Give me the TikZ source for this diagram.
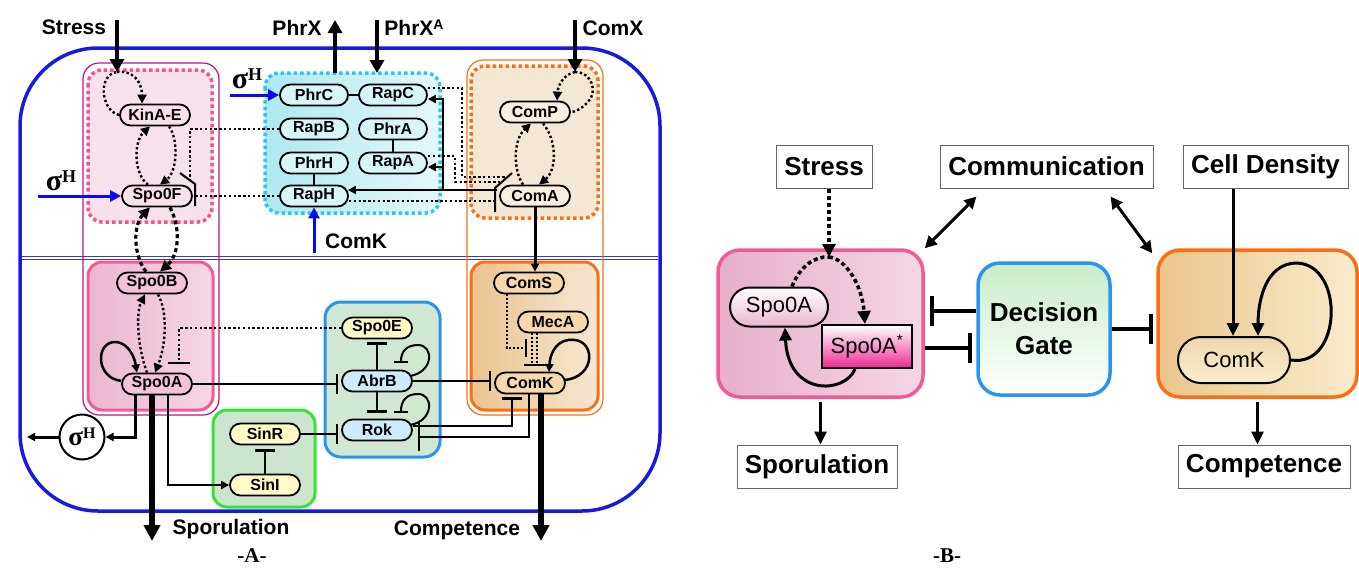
\documentclass[tikz,border=0pt]{standalone}
\usepackage{fontspec}
\setmainfont{Liberation Sans}
\newfontfamily\tms{Liberation Serif}
\usetikzlibrary{arrows.meta,calc}
\definecolor{cellblue}{RGB}{25,25,225}
\definecolor{navy}{RGB}{60,60,170}
\definecolor{magline}{RGB}{190,20,130}
\definecolor{pinkdot}{RGB}{250,80,140}
\definecolor{pinkfillA}{RGB}{246,226,236}
\definecolor{pinkL}{RGB}{234,182,208}
\definecolor{pinkR}{RGB}{246,214,230}
\definecolor{pinkedge}{RGB}{240,90,150}
\definecolor{cyandot}{RGB}{40,200,240}
\definecolor{cyanL}{RGB}{175,232,242}
\definecolor{cyanR}{RGB}{228,248,250}
\definecolor{orangeedge}{RGB}{250,110,20}
\definecolor{orfillA}{RGB}{244,232,212}
\definecolor{orfillB}{RGB}{234,196,142}
\definecolor{blueedge}{RGB}{40,150,240}
\definecolor{bluefill}{RGB}{208,232,210}
\definecolor{greenedge}{RGB}{50,230,50}
\definecolor{greenfill}{RGB}{205,228,205}
\definecolor{nodepinkA}{RGB}{250,224,237}
\definecolor{nodepinkB}{RGB}{244,194,219}
\definecolor{nodecyan}{RGB}{215,246,250}
\definecolor{nodeorA}{RGB}{250,238,220}
\definecolor{nodeorB}{RGB}{246,216,172}
\definecolor{nodeyel}{RGB}{255,250,200}
\definecolor{nodeblue}{RGB}{205,236,250}
\definecolor{sigblue}{RGB}{10,10,240}
\definecolor{Bpink}{RGB}{230,175,202}
\definecolor{BpinkR}{RGB}{245,214,230}
\definecolor{hotpink}{RGB}{238,40,150}
\definecolor{Bor}{RGB}{234,196,140}
\definecolor{BorR}{RGB}{250,236,205}
\definecolor{Bgreen}{RGB}{200,236,200}
\newcommand{\sigH}[3]{{\tms\bfseries\fontsize{#1}{#1}\selectfont σ\raisebox{#2}{\fontsize{#3}{#3}\selectfont H}}}
\begin{document}
\begin{tikzpicture}[x=1pt,y=-1pt,
  gn/.style={draw, line width=1.8pt, rounded corners=10.5pt, minimum width=70pt, minimum height=21pt, inner sep=0pt, font=\fontsize{16}{16}\selectfont\bfseries},
  lbl/.style={font=\fontsize{21}{21}\selectfont\bfseries, inner sep=0pt},
  ln/.style={line width=2pt},
  ar/.style={line width=2pt, -{Triangle[length=8pt,width=8pt]}},
  inh/.style={line width=2pt, -{Bar[width=20pt,line width=2.5pt]}},
  inhs/.style={line width=2pt, -{Bar[width=14pt,line width=2.5pt]}},
  dt/.style={line width=2.4pt, dash pattern=on 2.4pt off 2.4pt},
  dtar/.style={dt, -{Triangle[length=9pt,width=9pt]}},
  thk/.style={line width=3.2pt, dash pattern=on 4pt off 3pt, -{Triangle[length=11pt,width=11pt]}},
  bigar/.style={line width=4pt, -{Triangle[length=13pt,width=14pt]}},
  hugear/.style={line width=5.5pt, -{Triangle[length=16pt,width=16pt]}},
  blar/.style={draw=sigblue, line width=3pt, -{Triangle[length=11pt,width=11pt]}},
  bx/.style={draw=black!60, line width=1pt, minimum height=43pt, inner sep=0pt, font=\fontsize{26}{26}\selectfont\bfseries},
  arB/.style={line width=3pt, -{Triangle[length=13pt,width=12pt]}},
  dblB/.style={line width=3pt, {Triangle[length=12pt,width=12pt]}-{Triangle[length=12pt,width=12pt]}},
  inhB/.style={line width=3.5pt, -{Bar[width=30pt,line width=4pt]}},
  dtB/.style={line width=3.5pt, dash pattern=on 4pt off 3pt, -{Triangle[length=13pt,width=13pt]}}
]
\useasboundingbox (0,0) rectangle (1359,568);
% ===================== Panel A =====================
\draw[cellblue, line width=3.5pt, rounded corners=78pt] (20,48) rectangle (660,511);
\draw[navy, double=white, double distance=1.2pt, line width=1pt] (22,258) -- (658,258);
\draw[magline, line width=1.2pt, rounded corners=16pt] (83,63) rectangle (219,415);
\draw[orangeedge, line width=1.2pt, rounded corners=16pt] (467,60) rectangle (603,415);
\draw[draw=pinkdot, line width=3.5pt, dash pattern=on 3.5pt off 3pt, fill=pinkfillA, rounded corners=14pt] (88,70) rectangle (212,222);
\draw[draw=pinkedge, line width=3pt, left color=pinkL, right color=pinkR, rounded corners=14pt] (88,262) rectangle (213,410);
\draw[draw=cyandot, line width=3.5pt, dash pattern=on 3.5pt off 3pt, left color=cyanL, right color=cyanR, rounded corners=14pt] (265,73) rectangle (440,213);
\draw[draw=orangeedge, line width=3.5pt, dash pattern=on 3.5pt off 3pt, fill=orfillA, rounded corners=14pt] (471,66) rectangle (598,218);
\draw[draw=orangeedge, line width=3pt, left color=orfillB, right color=orfillB!40!white, rounded corners=14pt] (471,262) rectangle (598,410);
\draw[draw=blueedge, line width=3pt, fill=bluefill, rounded corners=16pt] (325,302) rectangle (440,457);
\draw[draw=greenedge, line width=3pt, fill=greenfill, rounded corners=14pt] (213,410) rectangle (315,507);

% nodes
\node[gn, fill=nodepinkA] (KinA) at (155,115) {KinA-E};
\node[gn, fill=nodepinkA] (Spo0F) at (157,196) {Spo0F};
\node[gn, fill=nodepinkB] (Spo0B) at (152,283) {Spo0B};
\node[gn, fill=nodepinkB] (Spo0A) at (157,384) {Spo0A};
\node[gn, fill=nodecyan, minimum width=68pt] (PhrC) at (314,95) {PhrC};
\node[gn, fill=nodecyan, minimum width=68pt] (RapC) at (393,95) {RapC};
\node[gn, fill=nodecyan, minimum width=68pt] (RapB) at (314,129) {RapB};
\node[gn, fill=nodecyan, minimum width=68pt] (PhrA) at (393,129) {PhrA};
\node[gn, fill=nodecyan, minimum width=68pt] (PhrH) at (314,163) {PhrH};
\node[gn, fill=nodecyan, minimum width=68pt] (RapA) at (393,163) {RapA};
\node[gn, fill=nodecyan, minimum width=68pt] (RapH) at (314,196) {RapH};
\node[gn, fill=nodeorA] (ComP) at (535,112) {ComP};
\node[gn, fill=nodeorA] (ComA) at (535,196) {ComA};
\node[gn, fill=nodeorB] (ComS) at (529,283) {ComS};
\node[gn, fill=nodeorB] (MecA) at (553,322) {MecA};
\node[gn, fill=nodeorB] (ComK) at (530,383) {ComK};
\node[gn, fill=nodeyel] (Spo0E) at (377,328) {Spo0E};
\node[gn, fill=nodeblue] (AbrB) at (377,381) {AbrB};
\node[gn, fill=nodeblue] (Rok) at (377,430) {Rok};
\node[gn, fill=nodeyel] (SinR) at (265,434) {SinR};
\node[gn, fill=nodeyel] (SinI) at (265,485) {SinI};
\node[draw, circle, line width=2pt, fill=white, minimum size=45pt, inner sep=0pt] (sH) at (82,437) {\sigH{27}{7pt}{16}};

% labels
\node[lbl] (tStress) at (74,27) {Stress};
\node[lbl] (tPhrX) at (297,28) {PhrX};
\node[lbl] (tPhrXA) at (414,28) {PhrX\raisebox{6pt}{\fontsize{14}{14}\selectfont A}};
\node[lbl] (tComX) at (613,28) {ComX};
\node[lbl] (tComK) at (356,241) {ComK};
\node[lbl] (tSpor) at (231,529) {Sporulation};
\node[lbl] (tComp) at (457,530) {Competence};
\node[inner sep=0pt] (sH1) at (247,79) {\sigH{30}{8pt}{18}};
\node[inner sep=0pt] (sH2) at (61,181) {\sigH{30}{8pt}{18}};
\node[inner sep=0pt, font=\tms\bfseries\fontsize{21}{21}\selectfont] (labA) at (252,556) {-A-};

% coordinates
\coordinate (stTop) at (117,20);
\coordinate (stIn) at (117,72);
\coordinate (pxT) at (335,20);
\coordinate (pxB) at (335,73);
\coordinate (paT) at (377,20);
\coordinate (paB) at (377,73);
\coordinate (cxT) at (575,20);
\coordinate (cxIn) at (575,72);
\coordinate (b1s) at (230,95);
\coordinate (b2s) at (38,196);
\coordinate (b3s) at (314,253);
\coordinate (e0) at (179,364);
\coordinate (caJ) at (497,190);
\coordinate (rJ) at (443,190);
\coordinate (ba1) at (512,173);
\coordinate (ba2) at (495,188);
\coordinate (ba3) at (495,212);
\coordinate (bf1) at (180,173);
\coordinate (bf2) at (195,184);
\coordinate (bf3) at (195,206);
\coordinate (mkb) at (535,365);
\coordinate (mks) at (527,348);
\coordinate (sHout) at (27,437);
\coordinate (spOut) at (152,541);
\coordinate (cpOut) at (541,541);

% input arrows
\draw[bigar] (stTop) -- (stIn);
\draw[bigar] (pxB) -- (pxT);
\draw[bigar] (paT) -- (paB);
\draw[bigar] (cxT) -- (cxIn);
\draw[blar] (b1s) -- (PhrC.west);
\draw[blar] (b2s) -- (Spo0F.west);
\draw[blar] (b3s) -- (RapH.south);

% phosphorelay
\draw[dt] (KinA.west) .. controls (100,110) and (98,74) .. (stIn);
\draw[dtar] (stIn) .. controls (133,70) and (142,82) .. ($(KinA.north)+(-13,0)$);
\draw[dtar] ($(Spo0F.north)+(-9,0)$) .. controls (134,175) and (133,142) .. ($(KinA.south)+(-5,0)$);
\draw[dtar] ($(KinA.south)+(14,0)$) .. controls (179,140) and (177,172) .. ($(Spo0F.north)+(3,0)$);
\draw[thk] ($(Spo0B.north)+(-6,0)$) .. controls (133,255) and (133,225) .. ($(Spo0F.south)+(-7,0)$);
\draw[thk] ($(Spo0F.south)+(13,0)$) .. controls (181,228) and (179,255) .. ($(Spo0B.north)+(8,0)$);
\draw[dtar] ($(Spo0A.north)+(-10,0)$) .. controls (137,345) and (136,312) .. ($(Spo0B.south)+(-7,0)$);
\draw[dtar] ($(Spo0B.south)+(6,0)$) .. controls (168,312) and (166,345) .. ($(Spo0A.north)+(-2,0)$);
\draw[ar, line width=2.5pt] (Spo0A.175) .. controls (95,378) and (95,340) .. (117,342) .. controls (128,344) and (134,355) .. ($(Spo0A.north)+(-20,0)$);
\draw[dt, -{Bar[width=22pt,line width=2.5pt]}] (Spo0E.west) -| (e0);

% Rap / Phr
\draw[ln] (PhrC.east) -- (RapC.west);
\draw[ln] (PhrA.south) -- (RapA.north);
\draw[ln] (PhrH.south) -- (RapH.north);
\draw[line width=2pt] (bf1) -- (bf2) -- (bf3);
\draw[dt] (RapB.west) -| (190,180);
\draw[dt] (RapH.west) -- (RapH.west -| bf2);
\draw[line width=2pt] (ba1) -- (ba2) -- (ba3);
\draw[dt] ($(RapC.east)+(0,-7)$) -| (462,177) -- (508,177);
\draw[dt] ($(RapA.east)+(0,-7)$) -| (455,182) -- (502,182);
\draw[dt] ($(RapH.east)+(0,5)$) -- (ba2 |- 0,201);
\draw[ar] (caJ) -- ($(RapH.east)+(-1,-6)$);
\draw[ar] (rJ) |- ($(RapC.east)+(0,4)$);
\draw[ar] (rJ) |- ($(RapA.east)+(0,4)$);

% ComX / ComP / ComA
\draw[dtar] (cxIn) .. controls (565,74) and (558,84) .. ($(ComP.north)+(22,0)$);
\draw[dt] (cxIn) .. controls (592,72) and (598,92) .. (588,102) .. controls (582,108) and (576,112) .. (ComP.east);
\draw[dtar] ($(ComA.north)+(-12,0)$) .. controls (513,170) and (513,140) .. ($(ComP.south)+(-4,0)$);
\draw[dtar] ($(ComP.south)+(8,0)$) .. controls (557,140) and (557,170) .. ($(ComA.north)+(4,0)$);
\draw[ar, line width=3pt] (ComA.south) -- (ComA.south |- ComS.north);

% competence module
\draw[line width=2pt, dash pattern=on 2pt off 2pt] ($(MecA.south)+(-21,0)$) -- ++(0,32);
\draw[line width=2pt, dash pattern=on 2pt off 2pt] ($(MecA.south)+(-16,0)$) -- ++(0,32);
\draw[line width=2.5pt] ($(mkb)+(-11,0)$) -- ($(mkb)+(11,0)$);
\draw[line width=2pt, dash pattern=on 2pt off 2pt, -{Bar[width=18pt,line width=2.5pt]}] ($(ComS.south)+(-22,0)$) |- (mks);
\draw[ar, line width=2.5pt] ($(ComK.east)+(-2,-3)$) .. controls (597,378) and (597,336) .. (568,340) .. controls (555,342) and (550,355) .. (549,372);

% AbrB / Rok / Spo0E / Sin
\draw[inh, shorten >=3pt] (AbrB.north) -- (Spo0E.south);
\draw[inh, shorten >=6pt] (AbrB.south) -- (Rok.north);
\draw[inhs] ($(AbrB.east)+(-3,-5)$) .. controls (434,372) and (434,345) .. (418,345) .. controls (406,345) and (401,352) .. (401,363);
\draw[inhs] ($(Rok.east)+(-3,-5)$) .. controls (434,421) and (434,394) .. (418,394) .. controls (406,394) and (401,401) .. (401,413);
\draw[inh, shorten >=3pt] (Spo0A.east) -- (Spo0A.east -| AbrB.west);
\draw[inh, shorten >=3pt] (AbrB.east) -- (AbrB.east -| ComK.west);
\draw[inh, shorten >=3pt] (SinR.east) -- (SinR.east -| Rok.west);
\draw[inh, shorten >=4pt] (SinI.north) -- (SinR.south);
\draw[inh, shorten >=3pt] ($(Rok.east)+(0,-4)$) -| ($(ComK.south)+(-18,0)$);
\draw[line width=2pt, -{Bar[width=28pt,line width=2.5pt]}] ($(ComK.south)+(-1,0)$) |- ($(Rok.east)+(5,7)$);

% outputs
\draw[ar, line width=3pt] ($(Spo0A.south)+(-22,0)$) |- (sH.east);
\draw[ar, line width=3pt] (sH.west) -- (sHout);
\draw[ar] ($(Spo0A.south)+(11,0)$) |- (SinI.west);
\draw[hugear] ($(Spo0A.south)+(-5,0)$) -- (spOut);
\draw[hugear] ($(ComK.south)+(11,0)$) -- (cpOut);

% ===================== Panel B =====================
\node[draw=pinkedge, line width=3.5pt, rounded corners=22pt, left color=Bpink, right color=BpinkR, minimum width=205pt, minimum height=147pt] (Bpk) at (820.5,323.5) {};
\node[draw=blueedge, line width=3.5pt, rounded corners=22pt, top color=Bgreen, bottom color=white, minimum width=132pt, minimum height=132pt, align=center, font=\fontsize{26}{33}\selectfont\bfseries] (Bdec) at (1044,329) {Decision\\Gate};
\node[draw=orangeedge, line width=3.5pt, rounded corners=22pt, left color=Bor, right color=BorR, minimum width=199pt, minimum height=147pt] (Bor) at (1257.5,323.5) {};
\node[bx, minimum width=96pt] (BSt) at (824,166.5) {Stress};
\node[bx, minimum width=213pt] (BCom) at (1046.5,166.5) {Communication};
\node[bx, minimum width=165pt] (BCD) at (1265.5,166.5) {Cell Density};
\node[bx, minimum width=160pt] (BSpor) at (817,466.5) {Sporulation};
\node[bx, minimum width=172pt] (BComp) at (1264,466.5) {Competence};
\node[draw, line width=2pt, rounded corners=19.5pt, top color=white, bottom color=pinkL, minimum width=98pt, minimum height=39pt, inner sep=0pt, font=\fontsize{22}{22}\selectfont] (BSpo) at (779,307) {Spo0A};
\node[draw, line width=2pt, top color=white, bottom color=hotpink, minimum width=90pt, minimum height=43pt, inner sep=0pt, font=\fontsize{22}{22}\selectfont] (BSs) at (867,346.5) {Spo0A\textsuperscript{*}};
\node[draw, line width=2pt, rounded corners=23pt, top color=Bor!70, bottom color=BorR, minimum width=112pt, minimum height=46pt, inner sep=0pt, font=\fontsize{22}{22}\selectfont] (BComK) at (1234,360) {ComK};
\node[inner sep=0pt, font=\tms\bfseries\fontsize{21}{21}\selectfont] (labB) at (947,556) {-B-};

\coordinate (bsIn) at (829,257);
\coordinate (cdx) at (1233,0);
\draw[dtB] (BSt.south -| bsIn) -- (bsIn);
\draw[line width=3.5pt, dash pattern=on 4pt off 3pt] ($(BSpo.north)+(13,0)$) .. controls (800,266) and (815,256) .. (bsIn);
\draw[dtB] (bsIn) .. controls (846,259) and (862,285) .. ($(BSs.north)+(-2,0)$);
\draw[arB] ($(BSs.south)+(-12,0)$) .. controls (845,394) and (788,397) .. ($(BSpo.south)+(6,0)$);
\draw[arB] ([yshift=-3pt]Bpk.south) -- (Bpk.south |- BSpor.north);
\draw[inhB, shorten >=5pt] ([yshift=18pt]Bdec.west) -- ([yshift=18pt]Bdec.west -| Bpk.east);
\draw[inhB, shorten >=4pt] ([yshift=-24.5pt]Bpk.east) -- ([yshift=-24.5pt]Bpk.east -| Bdec.west);
\draw[inhB, shorten >=3pt] (Bdec.east) -- (Bdec.east -| Bor.west);
\draw[dblB] ($(BCom.south west)+(37,8)$) -- (Bpk.north east);
\draw[dblB] ($(BCom.south east)+(-43,8)$) -- ($(Bor.north west)+(-4,5)$);
\draw[arB] (BCD.south -| cdx) -- (BComK.north -| cdx);
\draw[arB] (BComK.east) .. controls (1342,368) and (1345,265) .. (1297,263) .. controls (1266,263) and (1258,300) .. ($(BComK.north)+(24,0)$);
\draw[arB] ([yshift=-3pt]Bor.south) -- (Bor.south |- BComp.north);
\end{tikzpicture}
\end{document}
